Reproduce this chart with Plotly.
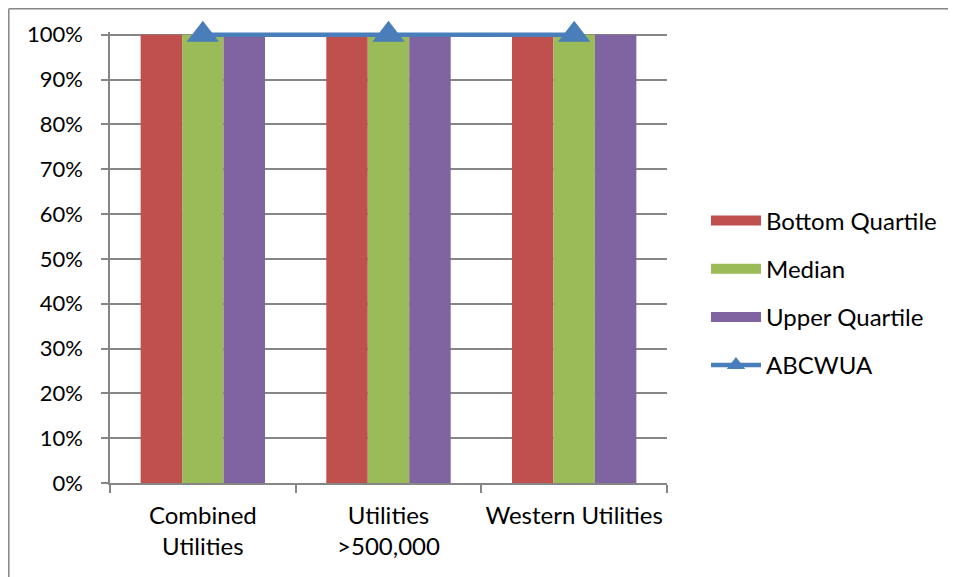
import plotly.graph_objects as go

categories = ["Combined Utilities", "Utilities >500,000", "Western Utilities"]
tick_labels = ["Combined<br>Utilities", "Utilities<br>>500,000", "Western Utilities"]
bottom_quartile = [100, 100, 100]
median = [100, 100, 100]
upper_quartile = [100, 100, 100]
abcwua = [100, 100, 100]
y_ticks = list(range(0, 101, 10))
y_tick_labels = [f"{v}%" for v in y_ticks]

RED = "#C0504D"
GREEN = "#9BBB59"
PURPLE = "#8064A2"
BLUE = "#4A7EBB"
GRID = "#868686"
FONT = "Lato"

W, H = 948, 569
ML, MR, MT, MB = 102, 289, 24, 94
PW, PH = W - ML - MR, H - MT - MB

fig = go.Figure()
for name, vals, col in [("Bottom Quartile", bottom_quartile, RED),
                        ("Median", median, GREEN),
                        ("Upper Quartile", upper_quartile, PURPLE)]:
    fig.add_trace(go.Bar(x=categories, y=vals, name=name, marker_color=col,
                         marker_line_width=0, showlegend=False))
    fig.add_trace(go.Scatter(x=[None], y=[None], mode="lines", name=name,
                             line=dict(color=col, width=15), legendgroup=name))

fig.add_trace(go.Scatter(x=categories, y=abcwua, mode="lines+markers", name="ABCWUA",
                         line=dict(color=BLUE, width=4.5),
                         marker=dict(symbol="triangle-up", size=28, color=BLUE),
                         cliponaxis=False, legendgroup="ABCWUA"))

fig.update_layout(
    width=W, height=H,
    margin=dict(l=ML, r=MR, t=MT, b=MB),
    paper_bgcolor="white", plot_bgcolor="white",
    barmode="group", bargap=0.33, bargroupgap=0,
    font=dict(family=FONT, size=24, color="black"),
    legend=dict(x=1.07, xanchor="left", y=0.631, yanchor="top",
                traceorder="grouped", tracegroupgap=14,
                font=dict(family=FONT, size=24, color="black"),
                itemwidth=50),
    shapes=[
        dict(type="line", xref="paper", yref="paper",
             x0=-(ML - 0.8) / PW, x1=2.0, y0=1 + (MT - 0.8) / PH, y1=1 + (MT - 0.8) / PH,
             line=dict(color=GRID, width=1.5)),
        dict(type="line", xref="paper", yref="paper",
             x0=-(ML - 0.8) / PW, x1=-(ML - 0.8) / PW, y0=-0.5, y1=1 + (MT - 0.8) / PH,
             line=dict(color=GRID, width=1.5)),
    ],
)
fig.update_xaxes(tickvals=categories, ticktext=tick_labels, showgrid=False,
                 showline=True, linecolor=GRID, linewidth=1.5,
                 ticks="outside", tickson="boundaries", ticklen=8,
                 tickcolor=GRID, tickwidth=1.5, ticklabelstandoff=10,
                 tickangle=0, automargin=False,
                 tickfont=dict(family=FONT, size=24, color="black"))
fig.update_yaxes(range=[0, 100.6], tickvals=y_ticks, ticktext=y_tick_labels,
                 showgrid=True, gridcolor=GRID, gridwidth=1.5,
                 showline=True, linecolor=GRID, linewidth=1.5,
                 ticks="outside", ticklen=7, tickcolor=GRID, tickwidth=1.5,
                 zeroline=False, ticklabelstandoff=14, automargin=False,
                 tickfont=dict(family=FONT, size=22, color="black"))

fig.write_html("out.html")
